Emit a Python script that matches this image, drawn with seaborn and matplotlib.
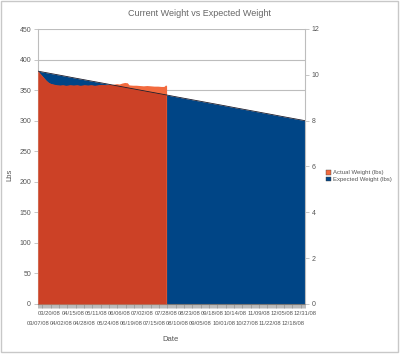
import pandas as pd
import matplotlib
matplotlib.use("Agg")
import matplotlib.pyplot as plt
from matplotlib.patches import Rectangle, Patch
import seaborn as sns

# category ticks every 13 days
tick_dates = pd.date_range("2008-03-07", "2008-12-31", freq="13D")
expected_lbs = [381.0, 377.5, 374.0, 370.4, 366.9, 363.4, 359.9, 356.3,
                352.8, 349.3, 345.8, 342.3, 338.7, 335.2, 331.7, 328.2,
                324.7, 321.1, 317.6, 314.1, 310.6, 307.0, 303.5, 300.0]

actual_dates = pd.to_datetime([
    "2008-03-07", "2008-03-10", "2008-03-13", "2008-03-16", "2008-03-19",
    "2008-03-22", "2008-03-25", "2008-03-28", "2008-04-01", "2008-04-04",
    "2008-04-08", "2008-04-12", "2008-04-16", "2008-04-20", "2008-04-24",
    "2008-04-28", "2008-05-02", "2008-05-06", "2008-05-10", "2008-05-14",
    "2008-05-18", "2008-05-22", "2008-05-26", "2008-05-30", "2008-06-03",
    "2008-06-06", "2008-06-09", "2008-06-12", "2008-06-15", "2008-06-17",
    "2008-06-21", "2008-06-25", "2008-06-29", "2008-07-03", "2008-07-07",
    "2008-07-11", "2008-07-15", "2008-07-19", "2008-07-23", "2008-07-26",
    "2008-07-28", "2008-07-29"])
actual_lbs = [381, 376, 371, 366, 362, 360, 359, 358, 357.5, 358,
              357, 358, 357.5, 358, 357, 358, 357.5, 358, 357, 358,
              358.5, 358, 358.5, 359.5, 360.5, 360, 361.5, 362.5, 362, 358.5,
              358, 358, 357.5, 357, 357.5, 357, 356.5, 356.5, 356, 356,
              358.5, 357]

blue = "#004586"
dark_red = "#cc4126"
light_orange = "#f26a3e"
txt = "#555555"
grid = "#bdbdbd"

sns.set_theme(style="white")
plt.rcParams["font.family"] = ["Liberation Sans", "DejaVu Sans"]

fig = plt.figure(figsize=(4, 3.55), dpi=100)
ax = fig.add_axes([38 / 400, 1 - 304 / 355, 267 / 400, 275 / 355])

exp = pd.DataFrame({"Date": tick_dates, "Lbs": expected_lbs})
act = pd.DataFrame({"Date": actual_dates, "Lbs": actual_lbs})

ax.fill_between(exp["Date"], exp["Lbs"], 0, color=blue, lw=0, zorder=2)
ax.fill_between(act["Date"], act["Lbs"], 0, color=light_orange, lw=0, zorder=3)
clip = ax.fill_between(act["Date"], act["Lbs"], 0, color="none", lw=0)
over = ax.fill_between(exp["Date"], exp["Lbs"], 0, color=dark_red, lw=0, zorder=4)
over.set_clip_path(clip.get_paths()[0], ax.transData)
sns.lineplot(data=exp, x="Date", y="Lbs", ax=ax, color="#1a1a2a", lw=0.6, zorder=5)

ax.set_xlim(tick_dates[0], tick_dates[-1])
ax.set_ylim(0, 450)
ax.set_yticks(range(0, 451, 50))
ax.yaxis.grid(True, color=grid, lw=0.8, zorder=0)
ax.set_axisbelow(True)

ax.set_xticks(tick_dates)
ax.set_xticklabels([d.strftime("%m/%d/%y") for d in tick_dates],
                   fontsize=4.2, color=txt)
ax.set_xticks(pd.date_range(tick_dates[0], tick_dates[-1], freq="D"), minor=True)
ax.tick_params(axis="x", which="both", direction="out", length=3, width=0.4,
               color="#888888", pad=2, bottom=True)
# staggered labels: every other one on a second row
for i, tick in enumerate(ax.xaxis.get_major_ticks()):
    if i % 2 == 0:
        tick.set_pad(9)
ax.tick_params(axis="y", direction="out", length=3, width=0.6, color=grid,
               labelsize=5, labelcolor=txt, pad=2, left=True)

for s in ax.spines.values():
    s.set_color(grid)
    s.set_linewidth(0.8)
ax.spines["top"].set_visible(False)
ax.spines["bottom"].set_color("#777777")

ax.set_ylabel("Lbs", fontsize=5.5, color=txt)
ax.yaxis.set_label_coords(-0.094, 0.47)
ax.set_xlabel("Date", fontsize=5.5, color=txt)
ax.xaxis.set_label_coords(0.497, -0.115)

ax2 = ax.twinx()
ax2.set_ylim(0, 12)
ax2.set_yticks(range(0, 13, 2))
ax2.tick_params(axis="y", direction="out", length=3, width=0.6, color=grid,
                labelsize=5, labelcolor=txt, pad=2, right=True)
for s in ax2.spines.values():
    s.set_visible(False)
ax2.grid(False)

fig.text(0.5, 1 - 14 / 355, "Current Weight vs Expected Weight",
         ha="center", va="center", fontsize=6.5, color="#666666")

handles = [Patch(facecolor=light_orange, edgecolor="#444444", lw=0.3),
           Patch(facecolor=blue, edgecolor="#444444", lw=0.3)]
fig.legend(handles, ["Actual Weight (lbs)", "Expected Weight (lbs)"],
           loc="upper left", bbox_to_anchor=(323 / 400, 1 - 167 / 355),
           fontsize=4.3, frameon=False, handlelength=0.8, handleheight=0.8,
           handletextpad=0.3, labelspacing=0.25, borderpad=0, labelcolor=txt)

fig.patches.append(Rectangle((1 / 400, 1 - 352 / 355), 397 / 400, 351 / 355,
                             transform=fig.transFigure, fill=False,
                             ec="#c8c8c8", lw=1))

fig.savefig("out.png", dpi=100)
